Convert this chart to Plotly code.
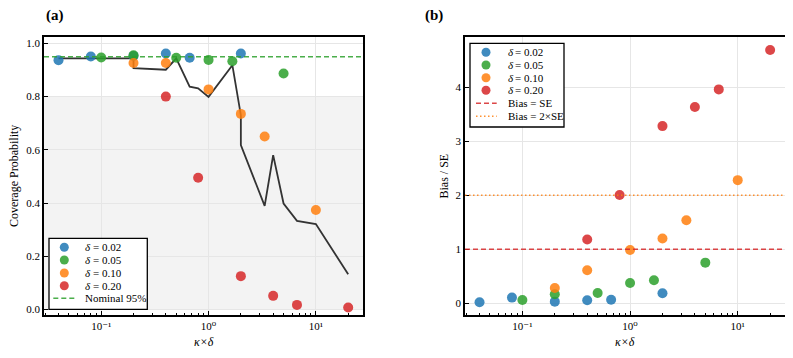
import plotly.graph_objects as go
from plotly.subplots import make_subplots

# ---------------- data ----------------
kd_002 = [0.04, 0.08, 0.2, 0.4, 0.667, 2.0]
cov_002 = [0.937, 0.951, 0.953, 0.962, 0.946, 0.962]
bias_002 = [0.02, 0.105, 0.03, 0.055, 0.065, 0.185]

kd_005 = [0.1, 0.2, 0.5, 1.0, 1.667, 5.0]
cov_005 = [0.947, 0.955, 0.946, 0.938, 0.933, 0.887]
bias_005 = [0.06, 0.167, 0.19, 0.376, 0.426, 0.752]

kd_010 = [0.2, 0.4, 1.0, 2.0, 3.333, 10.0]
cov_010 = [0.926, 0.926, 0.827, 0.735, 0.650, 0.374]
bias_010 = [0.283, 0.61, 0.987, 1.20, 1.536, 2.28]

kd_020 = [0.4, 0.8, 2.0, 4.0, 6.667, 20.0]
cov_020 = [0.80, 0.495, 0.125, 0.051, 0.017, 0.0075]
bias_020 = [1.18, 2.005, 3.28, 3.635, 3.96, 4.69]

trend_x = [0.04, 0.08, 0.1, 0.2, 0.2, 0.4, 0.5, 0.667, 0.8, 1.0, 1.667, 2.0, 2.0,
           3.333, 4.0, 5.0, 6.667, 10.0, 20.0]
trend_y = [0.944, 0.945, 0.945, 0.944, 0.907, 0.901, 0.944, 0.837, 0.831, 0.799,
           0.918, 0.73, 0.618, 0.389, 0.58, 0.398, 0.333, 0.321, 0.132]

delta_values = ["0.02", "0.05", "0.10", "0.20"]
colors = ["#1f77b4", "#2ca02c", "#ff7f0e", "#d62728"]
nominal = 0.95
bias_se = 1.0
bias_2se = 2.0

x_tickvals = [0.1, 1, 10]
x_ticktext = ["10\u207b\u00b9", "10\u2070", "10\u00b9"]
x_minor = [0.03, 0.04, 0.05, 0.06, 0.07, 0.08, 0.09,
           0.2, 0.3, 0.4, 0.5, 0.6, 0.7, 0.8, 0.9,
           2, 3, 4, 5, 6, 7, 8, 9, 20]

# ---------------- figure ----------------
OFF = 8  # page body margin
W, H = 793 - OFF, 358 - OFF
FONT = "Liberation Serif, DejaVu Serif, Times New Roman, serif"

def px(x):
    return (x - OFF) / W

def py(y):
    return 1 - (y - OFF) / H

fig = make_subplots(rows=1, cols=2)

# panel (a)
fig.add_trace(go.Scatter(x=trend_x, y=trend_y, mode="lines",
                         line=dict(color="#333333", width=1.8),
                         showlegend=False), row=1, col=1)
cov_sets = [(kd_002, cov_002), (kd_005, cov_005), (kd_010, cov_010), (kd_020, cov_020)]
for (xs, ys), c, d in zip(cov_sets, colors, delta_values):
    fig.add_trace(go.Scatter(x=xs, y=ys, mode="markers", name="δ=" + d,
                             marker=dict(color=c, size=10, opacity=0.85, line=dict(width=0)),
                             showlegend=False), row=1, col=1)

# panel (b)
bias_sets = [(kd_002, bias_002), (kd_005, bias_005), (kd_010, bias_010), (kd_020, bias_020)]
for (xs, ys), c, d in zip(bias_sets, colors, delta_values):
    fig.add_trace(go.Scatter(x=xs, y=ys, mode="markers", name="δ=" + d,
                             marker=dict(color=c, size=10, opacity=0.85, line=dict(width=0)),
                             showlegend=False), row=1, col=2)

xd1 = [px(44), px(363)]
xd2 = [px(465), px(785)]
yd = [py(315), py(37)]

axis_common = dict(showline=True, linecolor="black", linewidth=1.5, mirror=True,
                   ticks="inside", ticklen=4, tickwidth=1, tickcolor="black",
                   showgrid=True, gridcolor="#e6e6e6", gridwidth=0.8,
                   zeroline=False, tickfont=dict(family=FONT, size=11, color="black"))

xaxis_kw = dict(type="log", range=[-1.533, 1.439], tickmode="array",
                tickvals=x_tickvals, ticktext=x_ticktext,
                minor=dict(tickmode="array", tickvals=x_minor, ticks="inside",
                           ticklen=2, tickcolor="black", showgrid=False))

fig.update_layout(
    width=W, height=H, margin=dict(l=0, r=0, t=0, b=0),
    paper_bgcolor="white", plot_bgcolor="white",
    font=dict(family=FONT, size=11, color="black"),
    xaxis=dict(domain=xd1, **xaxis_kw, **axis_common),
    xaxis2=dict(domain=xd2, **xaxis_kw, **axis_common),
    yaxis=dict(domain=yd, range=[-0.021, 1.024], tickvals=[0, 0.2, 0.4, 0.6, 0.8, 1.0],
               tickformat=".1f", **axis_common),
    yaxis2=dict(domain=yd, range=[-0.217, 4.93], tickvals=[0, 1, 2, 3, 4], **axis_common),
)

shapes = []
# shaded low-coverage region
shapes.append(dict(type="rect", xref="x domain", yref="y", x0=0, x1=1, y0=0, y1=0.8,
                   fillcolor="#f3f3f3", line=dict(width=0), layer="below"))
# reference lines
shapes.append(dict(type="line", xref="x domain", yref="y", x0=0, x1=1, y0=nominal, y1=nominal,
                   line=dict(color="rgba(44,160,44,0.85)", width=1.6, dash="5px,3px")))
shapes.append(dict(type="line", xref="x2 domain", yref="y2", x0=0, x1=1, y0=bias_se, y1=bias_se,
                   line=dict(color="rgba(214,39,40,0.85)", width=1.6, dash="5px,3px")))
shapes.append(dict(type="line", xref="x2 domain", yref="y2", x0=0, x1=1, y0=bias_2se, y1=bias_2se,
                   line=dict(color="rgba(255,127,14,0.85)", width=1.6, dash="1.5px,2.5px")))

annotations = []

def text_ann(x, y, text, size=11, anchor="left", italic=False, bold=False, angle=0):
    return dict(xref="paper", yref="paper", x=px(x), y=py(y), xanchor=anchor,
                yanchor="middle", showarrow=False, text=text, textangle=angle,
                font=dict(family=FONT, size=size, color="black",
                          style="italic" if italic else "normal",
                          weight="bold" if bold else "normal"))

def legend(box, rows, marker_x, line_x0, line_x1, text_x, entries):
    x0, x1, y0, y1 = box
    shapes.append(dict(type="rect", xref="paper", yref="paper",
                       x0=px(x0), x1=px(x1), y0=py(y1), y1=py(y0),
                       fillcolor="white", line=dict(color="black", width=1.3), layer="above"))
    for yrow, (kind, col, text) in zip(rows, entries):
        if kind == "dot":
            shapes.append(dict(type="circle", xref="paper", yref="paper",
                               xsizemode="pixel", ysizemode="pixel",
                               xanchor=px(marker_x), yanchor=py(yrow),
                               x0=-4.5, x1=4.5, y0=-4.5, y1=4.5,
                               fillcolor=col, opacity=0.85, line=dict(width=0), layer="above"))
            annotations.append(text_ann(text_x, yrow, "δ", italic=True))
            annotations.append(text_ann(text_x + 7.2, yrow, "= " + text))
        else:
            dash = "5px,3px" if kind == "dash" else "1.5px,2.5px"
            shapes.append(dict(type="line", xref="paper", yref="paper",
                               x0=px(line_x0), x1=px(line_x1), y0=py(yrow), y1=py(yrow),
                               line=dict(color=col, width=1.6, dash=dash), layer="above"))
            annotations.append(text_ann(text_x, yrow, text))

dot_entries = [("dot", c, d) for c, d in zip(colors, delta_values)]

legend((49, 147.3, 238.3, 309.3), [247.3, 260, 273, 285.7, 298.3], 64.3, 53.3, 75, 83.3,
       dot_entries + [("dash", "rgba(44,160,44,0.85)", "Nominal 95%")])
legend((470, 564, 43.3, 127), [52.3, 65, 77.7, 90.3, 103.3, 116.3], 486, 476, 496.7, 505.7,
       dot_entries + [("dash", "rgba(214,39,40,0.85)", "Bias = SE"),
                      ("dot2", "rgba(255,127,14,0.85)", "Bias = 2×SE")])

# titles and axis labels
annotations += [
    text_ann(44, 15.7, "(a)", size=15, bold=True),
    text_ann(423, 15.7, "(b)", size=15, bold=True),
    text_ann(14, 176, "Coverage Probability", size=12, anchor="center", angle=-90),
    text_ann(443.5, 176, "Bias / SE", size=12, anchor="center", angle=-90),
    text_ann(203.5, 341.7, "κ×δ", size=12, anchor="center", italic=True),
    text_ann(625, 341.7, "κ×δ", size=12, anchor="center", italic=True),
]

fig.update_layout(shapes=shapes, annotations=annotations)
fig.write_html("out.html")
